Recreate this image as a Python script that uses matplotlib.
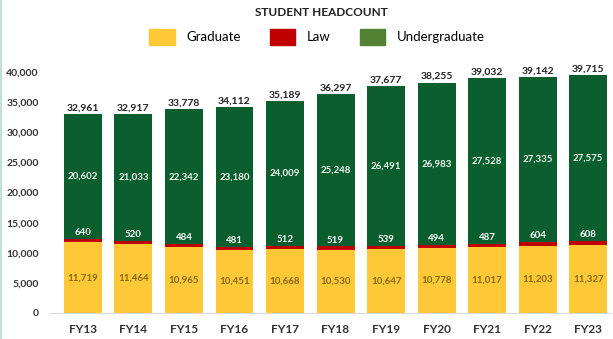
import matplotlib.pyplot as plt
import matplotlib.patches as mpatches
import numpy as np

plt.rcParams['font.family'] = ['Lato', 'DejaVu Sans']

years = ['FY13', 'FY14', 'FY15', 'FY16', 'FY17', 'FY18', 'FY19', 'FY20', 'FY21', 'FY22', 'FY23']
graduate = [11719, 11464, 10965, 10451, 10668, 10530, 10647, 10778, 11017, 11203, 11327]
law = [640, 520, 484, 481, 512, 519, 539, 494, 487, 604, 608]
undergrad = [20602, 21033, 22342, 23180, 24009, 25248, 26491, 26983, 27528, 27335, 27575]
totals = [32961, 32917, 33778, 34112, 35189, 36297, 37677, 38255, 39032, 39142, 39715]

c_grad = '#FFC836'
c_law = '#C00000'
c_ug = '#0B5E2D'
c_ug_leg = '#548235'

fig = plt.figure(figsize=(6.13, 3.39), dpi=100)
ax = fig.add_axes([50/613, 1-313/339, 561/613, (313-72)/339])

x = np.arange(len(years))
g = np.array(graduate)
l = np.array(law)
u = np.array(undergrad)
w = 0.75

ax.bar(x, g, w, color=c_grad)
ax.bar(x, l, w, bottom=g, color=c_law)
ax.bar(x, u, w, bottom=g+l, color=c_ug)

for i in range(len(x)):
    ax.text(x[i], g[i]/2, f'{g[i]:,}', ha='center', va='center', fontsize=7,
            fontweight='bold', color='#86680F')
    ax.text(x[i], g[i]+l[i]+300, f'{l[i]:,}', ha='center', va='bottom', fontsize=7,
            fontweight='bold', color='white')
    ax.text(x[i], g[i]+l[i]+u[i]/2, f'{u[i]:,}', ha='center', va='center', fontsize=7,
            fontweight='bold', color='#F0F8F0')
    ax.text(x[i], g[i]+l[i]+u[i]+250, f'{totals[i]:,}', ha='center', va='bottom',
            fontsize=7.5, fontweight='bold', color='#222222', clip_on=False)

ax.set_xlim(-0.65, 10.45)
ax.set_ylim(0, 40000)
ax.set_yticks(range(0, 40001, 5000))
ax.set_yticklabels([f'{v:,}' for v in range(0, 40001, 5000)], fontsize=7.5, fontweight='bold', color='#333333')
ax.set_xticks(x)
ax.set_xticklabels(years, fontsize=8.5, fontweight='bold', color='#333333')
ax.tick_params(length=0)
ax.tick_params(axis='x', pad=8)
ax.tick_params(axis='y', pad=8)
for s in ['top', 'right', 'left']:
    ax.spines[s].set_visible(False)
ax.spines['bottom'].set_color('#D9D9D9')
ax.spines['bottom'].set_linewidth(0.8)

fig.text(321/613, 1-13/339, 'STUDENT HEADCOUNT', ha='center', va='center', fontsize=8.5,
         fontweight='bold', color='#222222')

handles = [mpatches.Patch(color=c_grad, label='Graduate'),
           mpatches.Patch(color=c_law, label='Law'),
           mpatches.Patch(color=c_ug_leg, label='Undergraduate')]
fig.legend(handles=handles, loc='center', bbox_to_anchor=(317/613, 1-37/339), ncol=3,
           frameon=False, fontsize=9.5, handlelength=1.9, handleheight=1.5,
           handletextpad=0.9, columnspacing=2.2)

fig.add_artist(mpatches.Rectangle((0, 0), 2/613, 1, transform=fig.transFigure,
                                  color='#BFE3D2', lw=0))

fig.savefig('out.png', dpi=100)
